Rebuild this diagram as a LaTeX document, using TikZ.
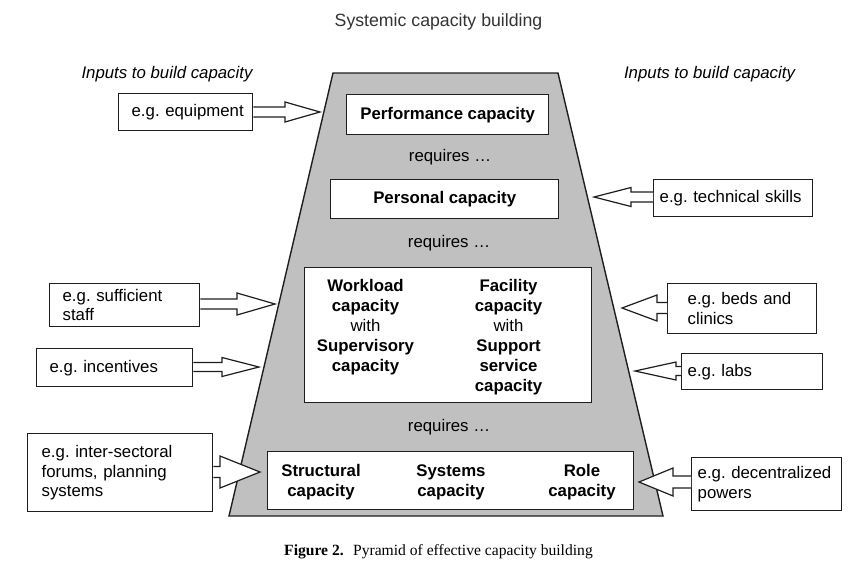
\documentclass[tikz,border=0pt]{standalone}
\usepackage{fontspec}
\setmainfont{Liberation Sans}
\newfontfamily\capfont{Liberation Serif}
\usetikzlibrary{calc}
\frenchspacing
\definecolor{pyrgray}{RGB}{192,192,192}
\definecolor{titlegray}{RGB}{51,51,51}
\definecolor{linegray}{RGB}{30,30,30}
\newcommand\mainsize{\fontsize{16.8}{20}\selectfont}
\newcommand\insize{\fontsize{16.8}{19.5}\selectfont}
\tikzset{
 pyr/.style={fill=pyrgray, draw=linegray, line width=1.4pt},
 cbox/.style={draw=linegray, fill=white, line width=1.4pt, inner sep=0pt, anchor=north west, font=\mainsize\bfseries},
 inbox/.style={draw=linegray, fill=white, line width=1.3pt, inner ysep=0pt, align=left, anchor=north west, font=\insize},
 harrow/.style={draw=linegray, fill=white, line width=1.2pt, line join=miter},
 capcol/.style={align=center, inner sep=0pt, anchor=north, font=\mainsize},
 req/.style={font=\mainsize, inner sep=0pt},
 inputs/.style={font=\mainsize\itshape, inner sep=0pt},
}
\newcommand\hollowarrow[5]{%
 \draw[harrow] let \p1=(#1), \p2=(#2) in
 (\x1,{\y2+#4pt}) -- ({\x2-(#3pt)},{\y2+#4pt}) -- ({\x2-(#3pt)},{\y2+#5pt}) -- (\p2)
 -- ({\x2-(#3pt)},{\y2-#5pt}) -- ({\x2-(#3pt)},{\y2-#4pt}) -- (\x1,{\y2-#4pt});}
\begin{document}
\begin{tikzpicture}[x=1pt,y=-1pt]
\useasboundingbox (0,0) rectangle (850,566);
\node[font=\fontsize{17.7}{20}\selectfont, text=titlegray, inner sep=0pt] (title) at (438.5,22) {Systemic capacity building};
\node[inputs] (inl) at (167,74) {Inputs to build capacity};
\node[inputs] (inr) at (709.5,74) {Inputs to build capacity};
\draw[pyr] (333,73) -- (558,73) -- (663,516) -- (229,516) -- cycle;
\node[cbox, minimum width=202, minimum height=40] (perf) at (346,94) {Performance capacity};
\node[req] (req1) at (450,157) {requires …};
\node[cbox, minimum width=228, minimum height=39] (pers) at (330,179) {Personal capacity};
\node[req] (req2) at (449,243) {requires …};
\node[cbox, minimum width=287, minimum height=135] (mid) at (304,267) {};
\node[capcol] (work) at (365.5,277) {\strut\textbf{Workload}\\\textbf{capacity}\\with\\\textbf{Supervisory}\\\textbf{capacity}};
\node[capcol] (fac) at (508.5,277) {\strut\textbf{Facility}\\\textbf{capacity}\\with\\\textbf{Support}\\\textbf{service}\\\textbf{capacity}};
\node[req] (req3) at (449,427) {requires …};
\node[cbox, minimum width=366, minimum height=58] (base) at (267,451) {};
\node[capcol, font=\mainsize\bfseries] (struct) at (321,462) {\strut Structural\\capacity};
\node[capcol, font=\mainsize\bfseries] (syst) at (451,462) {\strut Systems\\capacity};
\node[capcol, font=\mainsize\bfseries] (role) at (582,462) {\strut Role\\capacity};
% input boxes
\node[inbox, text width=112, inner xsep=11, minimum height=37] (equip) at (118,93) {\hspace*{2pt}\mbox{e.g. equipment}};
\node[inbox, text width=147, inner xsep=6, minimum height=37] (tech) at (653,179) {\mbox{e.g. technical skills}};
\node[inbox, text width=124, inner xsep=13, minimum height=43] (suff) at (49,283) {e.g. sufficient\\staff};
\node[inbox, text width=130, inner xsep=13, minimum height=38] (incent) at (36,348) {e.g. incentives};
\node[inbox, text width=157, inner xsep=14, minimum height=78] (inter) at (27,433) {e.g. inter-sectoral\\forums, planning\\systems};
\node[inbox, text width=109, inner xsep=20, minimum height=50] (beds) at (667,283) {e.g. beds and\\clinics};
\node[inbox, text width=129, inner xsep=6, minimum height=36] (labs) at (681,353) {e.g. labs};
\node[inbox, text width=138, inner xsep=6, minimum height=53] (decent) at (691,457) {\mbox{e.g. decentralized}\\powers};
% arrow tips on the pyramid
\coordinate (tEq) at (320,112);
\coordinate (tTech) at (594,197);
\coordinate (tSuff) at (275,304);
\coordinate (tInc) at (259,367);
\coordinate (tInt) at (260,472);
\coordinate (tBeds) at (622,308);
\coordinate (tLabs) at (635,371);
\coordinate (tDec) at (639,482);
\hollowarrow{equip.east}{tEq}{35}{5}{10}
\hollowarrow{tech.west}{tTech}{-37}{5}{9.5}
\hollowarrow{suff.east}{tSuff}{38}{5}{11}
\hollowarrow{incent.east}{tInc}{37}{4.5}{9.5}
\hollowarrow{inter.east}{tInt}{40}{5.5}{16}
\hollowarrow{beds.west}{tBeds}{-35}{5.5}{13}
\hollowarrow{labs.west}{tLabs}{-41}{4.5}{9}
\hollowarrow{decent.west}{tDec}{-34}{6}{14}
\node[font=\capfont\fontsize{15.6}{18}\selectfont, inner sep=0pt] (cap) at (438.5,552) {\textbf{Figure 2.}\hspace{0.6em}Pyramid of effective capacity building};
\end{tikzpicture}
\end{document}
